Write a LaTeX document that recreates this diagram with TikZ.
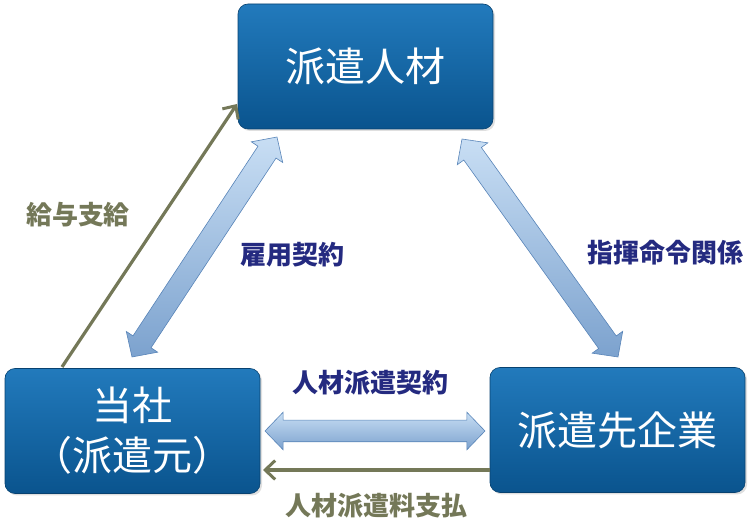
\documentclass[tikz,border=0pt]{standalone}
\usepackage{fontspec}
\newfontfamily\jp{Noto Sans CJK JP}
\usetikzlibrary{shapes.arrows,arrows.meta,shadows,calc}
\definecolor{boxtop}{RGB}{34,122,188}
\definecolor{boxbot}{RGB}{10,84,142}
\definecolor{boxedge}{RGB}{8,66,112}
\definecolor{arrlight}{RGB}{200,222,244}
\definecolor{arrdark}{RGB}{124,162,206}
\definecolor{arredge}{RGB}{88,132,184}
\definecolor{olivec}{RGB}{116,120,88}
\definecolor{navyc}{RGB}{36,42,128}
\tikzset{
  x=1pt, y=1pt,
  bluebox/.style={rounded corners=10pt, minimum width=255pt, minimum height=125pt,
    top color=boxtop, bottom color=boxbot, draw=boxedge, line width=0.6pt,
    text=white, font=\jp\fontsize{40}{50}\selectfont, align=center,
    drop shadow={opacity=0.25, shadow xshift=2pt, shadow yshift=-2pt}},
  blockarrow/.style={double arrow, draw=arredge, line width=0.6pt,
    top color=arrlight, bottom color=arrdark,
    inner xsep=0pt, inner ysep=10.5pt, text height=0pt, text depth=0pt,
    double arrow head extend=8pt, double arrow tip angle=92},
  payline/.style={draw=olivec, line width=3.2pt,
    -{Straight Barb[length=10pt,width=19pt,line width=3pt]}},
  navylabel/.style={text=navyc, font=\jp\bfseries\fontsize{26}{30}\selectfont},
  olivelabel/.style={text=olivec, font=\jp\bfseries\fontsize{26}{30}\selectfont},
}
\newcommand{\blockarr}[3]{%
  \path let \p1=($(#3)-(#2)$), \n1={atan2(\y1,\x1)}, \n2={veclen(\x1,\y1)} in
    node[blockarrow, minimum height=\n2, rotate=\n1] (#1) at ($(#2)!0.5!(#3)$) {};}
\begin{document}
\begin{tikzpicture}
\useasboundingbox (0,0) rectangle (750,525);
% boxes
\node[bluebox] (staff) at (365.5,458.5) {派遣人材};
\node[bluebox] (us) at (132.5,94) {当社\\（派遣元）};
\node[bluebox] (client) at (617.5,95) {派遣先企業};
% block arrow end points
\coordinate (l1) at (132,168);
\coordinate (l2) at (277,388);
\coordinate (r1) at (462,386);
\coordinate (r2) at (618,168);
\coordinate (h1) at (265,94);
\coordinate (h2) at (485,94);
\blockarr{emp}{l1}{l2}
\blockarr{cmd}{r1}{r2}
\blockarr{disp}{h1}{h2}
% payment lines
\coordinate (g1) at (62,158);
\coordinate (g2) at (237,421);
\draw[payline] (g1) -- (g2);
\coordinate (p1) at (490,55);
\coordinate (p2) at (263,55);
\draw[payline] (p1) -- (p2);
% labels
\node[olivelabel] (salary) at (78,310) {給与支給};
\node[navylabel] (empl) at (292,270) {雇用契約};
\node[navylabel] (cmdl) at (665,272) {指揮命令関係};
\node[navylabel] (displ) at (370,142) {人材派遣契約};
\node[olivelabel] (feel) at (376,19) {人材派遣料支払};
\end{tikzpicture}
\end{document}
